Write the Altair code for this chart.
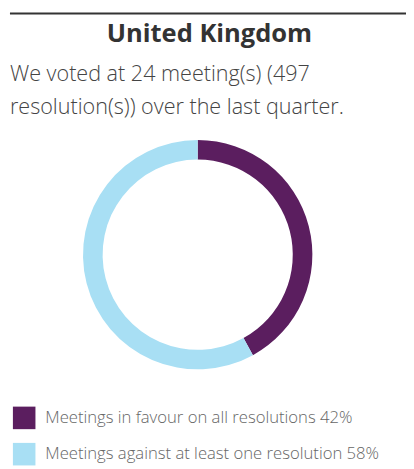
import altair as alt
import pandas as pd

# ---- data ----
title_text = ["United Kingdom"]
subtitle_lines = ["We voted at 24 meeting(s) (497", "resolution(s)) over the last quarter."]
categories = ["Meetings in favour on all resolutions 42%", "Meetings against at least one resolution 58%"]
values = [42, 58]
colors = ["#5b1e5f", "#a8dff4"]

FONT = "Open Sans"

df = pd.DataFrame({"cat": categories, "value": values, "order": list(range(len(values)))})
blank = alt.Data(values=[{}])

rule = alt.Chart(blank).mark_rule(color="#333333", strokeWidth=2).encode(
    x=alt.value(2), x2=alt.value(406), y=alt.value(1)
)

title = alt.Chart(blank).mark_text(
    font=FONT, fontSize=26, fontWeight="bold", color="#333333", align="center", baseline="alphabetic"
).encode(x=alt.value(205.5), y=alt.value(30), text=alt.value(title_text[0]))

sub1 = alt.Chart(blank).mark_text(
    font=FONT, fontSize=22, fontWeight=300, color="#444444", align="left", baseline="alphabetic"
).encode(x=alt.value(2), y=alt.value(70), text=alt.value(subtitle_lines[0]))

sub2 = alt.Chart(blank).mark_text(
    font=FONT, fontSize=22, fontWeight=300, color="#444444", align="left", baseline="alphabetic"
).encode(x=alt.value(2), y=alt.value(104), text=alt.value(subtitle_lines[1]))

donut = alt.Chart(df).mark_arc(innerRadius=97, outerRadius=117).encode(
    theta=alt.Theta("value:Q", stack=True),
    order=alt.Order("order:Q"),
    color=alt.Color(
        "cat:N",
        scale=alt.Scale(domain=categories, range=colors),
        sort=categories,
        legend=alt.Legend(
            title=None,
            orient="none",
            legendX=5,
            legendY=402,
            symbolType="square",
            symbolSize=529,
            symbolStrokeWidth=0,
            symbolOpacity=1,
            labelFont=FONT,
            labelFontSize=17,
            labelFontWeight=300,
            labelColor="#666666",
            labelOffset=10,
            rowPadding=14,
            labelLimit=400,
        ),
    ),
    x=alt.value(193.5),
    y=alt.value(247),
)

chart = alt.layer(rule, title, sub1, sub2, donut).properties(
    width=406,
    height=461,
    autosize=alt.AutoSizeParams(type="none"),
    padding=0,
).configure_view(stroke=None)

chart.save("out.html", embed_options={"renderer": "svg", "actions": False})
